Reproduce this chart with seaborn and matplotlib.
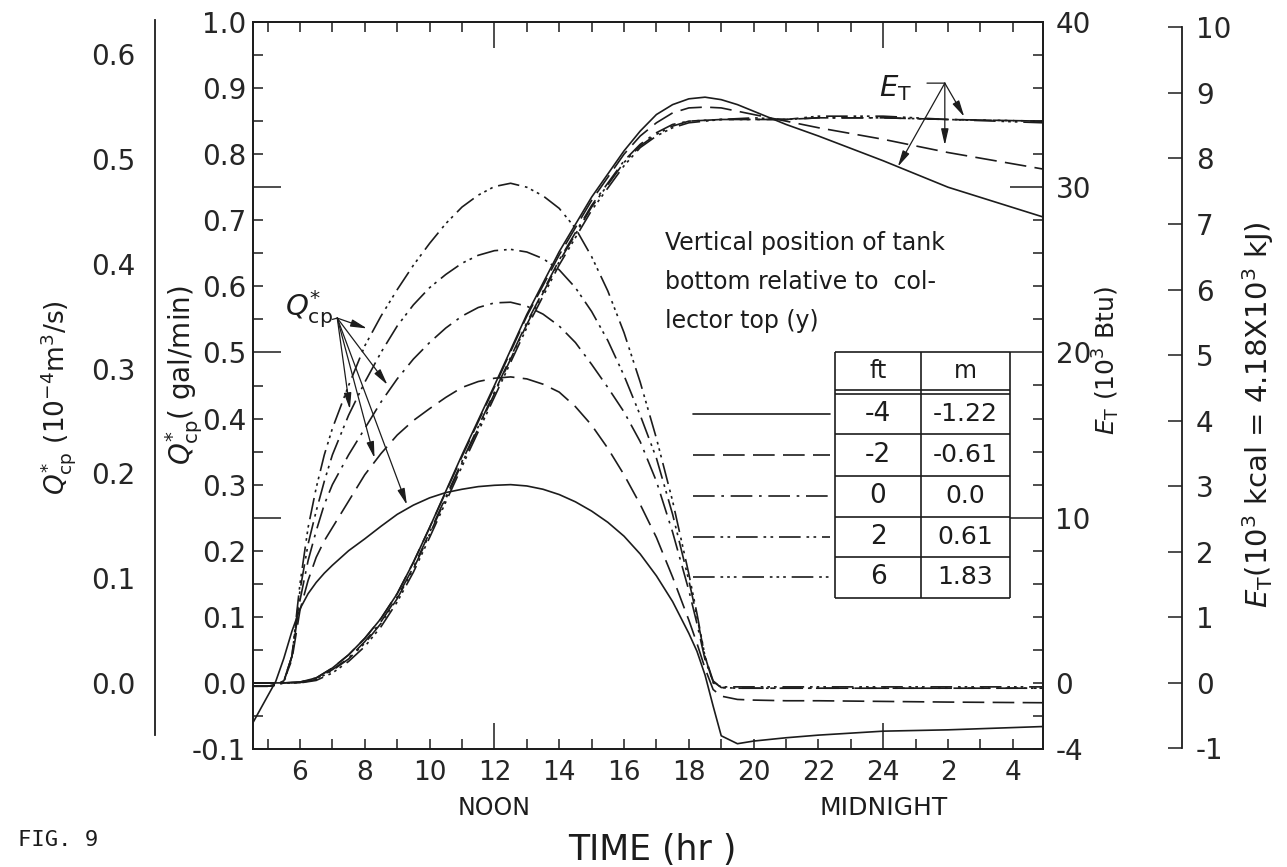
import numpy as np
import pandas as pd
import matplotlib
matplotlib.use("Agg")
import matplotlib.pyplot as plt
import matplotlib.transforms as mtrans
from matplotlib.ticker import FixedLocator, FuncFormatter
import seaborn as sns

# ---------------- data ----------------
hours_q = [4.55, 5.0, 5.25, 5.5, 5.75, 6.0, 6.25, 6.5, 6.75, 7.0,
           7.5, 8.0, 8.5, 9.0, 9.5, 10.0, 10.5, 11.0, 11.5, 12.0,
           12.5, 13.0, 13.5, 14.0, 14.5, 15.0, 15.5, 16.0, 16.5, 17.0,
           17.5, 18.0, 18.25, 18.5, 18.75, 19.0, 19.5, 20.0, 21.0, 22.0,
           24.0, 26.0, 28.93]
q_m4 = [-0.06, -0.02, 0.002, 0.037, 0.078, 0.112, 0.135, 0.152, 0.166, 0.178,
        0.20, 0.218, 0.237, 0.255, 0.269, 0.28, 0.288, 0.293, 0.297, 0.299,
        0.30, 0.298, 0.293, 0.285, 0.274, 0.26, 0.243, 0.222, 0.195, 0.162,
        0.123, 0.075, 0.048, 0.012, -0.035, -0.08, -0.092, -0.088, -0.083, -0.079,
        -0.073, -0.071, -0.066]
q_m2 = [-0.005, -0.005, -0.003, 0.003, 0.035, 0.11, 0.155, 0.19, 0.215, 0.235,
        0.275, 0.315, 0.347, 0.375, 0.397, 0.415, 0.432, 0.447, 0.456, 0.461,
        0.463, 0.46, 0.452, 0.44, 0.418, 0.39, 0.355, 0.315, 0.27, 0.22,
        0.16, 0.095, 0.06, 0.022, -0.01, -0.02, -0.025, -0.026, -0.027, -0.027,
        -0.028, -0.029, -0.03]
q_0 = [-0.005, -0.005, -0.003, 0.003, 0.04, 0.125, 0.185, 0.23, 0.27, 0.30,
       0.345, 0.385, 0.425, 0.46, 0.49, 0.515, 0.537, 0.555, 0.568, 0.575,
       0.576, 0.57, 0.558, 0.54, 0.515, 0.482, 0.447, 0.41, 0.365, 0.305,
       0.228, 0.14, 0.09, 0.035, 0.002, -0.007, -0.008, -0.008, -0.008, -0.008,
       -0.008, -0.008, -0.008]
q_2 = [-0.005, -0.005, -0.003, 0.003, 0.04, 0.14, 0.21, 0.26, 0.305, 0.345,
       0.405, 0.455, 0.50, 0.54, 0.572, 0.598, 0.618, 0.635, 0.647, 0.654,
       0.656, 0.652, 0.642, 0.625, 0.598, 0.562, 0.518, 0.465, 0.405, 0.34,
       0.255, 0.155, 0.10, 0.04, 0.003, -0.007, -0.008, -0.008, -0.008, -0.008,
       -0.008, -0.008, -0.008]
q_6 = [-0.005, -0.005, -0.004, 0.0, 0.04, 0.15, 0.235, 0.295, 0.345, 0.385,
       0.45, 0.51, 0.555, 0.595, 0.632, 0.665, 0.695, 0.72, 0.738, 0.751,
       0.756, 0.75, 0.737, 0.718, 0.688, 0.645, 0.593, 0.53, 0.455, 0.37,
       0.275, 0.165, 0.105, 0.04, 0.0, -0.006, -0.006, -0.006, -0.006, -0.006,
       -0.006, -0.006, -0.006]

hours_e = [4.55, 5.5, 6.0, 6.5, 7.0, 7.5, 8.0, 8.5, 9.0, 9.5,
           10.0, 11.0, 12.0, 13.0, 14.0, 15.0, 16.0, 16.5, 17.0, 17.5,
           18.0, 18.5, 19.0, 19.5, 20.0, 21.0, 22.0, 24.0, 26.0, 28.93]
e_m4 = [0, 0, 0.05, 0.3, 0.9, 1.7, 2.7, 3.9, 5.4, 7.3,
        9.4, 13.8, 18.0, 22.3, 26.1, 29.4, 32.2, 33.4, 34.4, 35.0,
        35.35, 35.45, 35.3, 35.0, 34.6, 33.8, 33.1, 31.6, 30.0, 28.2]
e_m2 = [0, 0, 0.05, 0.3, 0.9, 1.7, 2.7, 3.9, 5.4, 7.3,
        9.4, 13.7, 17.9, 22.2, 25.9, 29.2, 32.0, 33.1, 33.9, 34.5,
        34.8, 34.85, 34.8, 34.6, 34.4, 34.0, 33.6, 32.9, 32.1, 31.1]
e_0 = [0, 0, 0.03, 0.25, 0.8, 1.5, 2.5, 3.7, 5.2, 7.0,
       9.1, 13.4, 17.6, 21.8, 25.6, 28.9, 31.6, 32.6, 33.3, 33.8,
       34.0, 34.05, 34.1, 34.1, 34.1, 34.1, 34.2, 34.2, 34.1, 34.0]
e_2 = [0, 0, 0.02, 0.2, 0.75, 1.45, 2.4, 3.6, 5.1, 6.9,
       9.0, 13.3, 17.5, 21.7, 25.5, 28.8, 31.5, 32.5, 33.2, 33.7,
       34.0, 34.05, 34.1, 34.1, 34.1, 34.1, 34.2, 34.2, 34.1, 34.0]
e_6 = [0, 0, 0.0, 0.15, 0.6, 1.3, 2.2, 3.4, 4.9, 6.7,
       8.8, 13.1, 17.3, 21.5, 25.3, 28.6, 31.3, 32.4, 33.1, 33.6,
       33.9, 34.0, 34.1, 34.15, 34.2, 34.1, 34.3, 34.3, 34.1, 33.9]

positions_ft = ["-4", "-2", "0", "2", "6"]
positions_m = ["-1.22", "-0.61", "0.0", "0.61", "1.83"]

q_si_ticks = [0.0, 0.1, 0.2, 0.3, 0.4, 0.5, 0.6]
e_ticks = [-4, 0, 10, 20, 30, 40]
kcal_ticks = [-1, 0, 1, 2, 3, 4, 5, 6, 7, 8, 9, 10]

GPM_TO_SI = 0.6309     # 1 gal/min = 0.6309e-4 m3/s
BTU_PER_KCAL = 3.968

# ---------------- style ----------------
sns.set_theme(style="white")
plt.rcParams["font.family"] = ["DejaVu Sans"]
plt.rcParams["mathtext.fontset"] = "dejavusans"
INK = "#1c1c1c"

dash_map = {"-4": "", "-2": (13, 5), "0": (13, 4, 1.6, 4),
            "2": (13, 3.5, 1.6, 2.6, 1.6, 3.5), "6": (13, 3.5, 1.6, 2.4, 1.6, 2.4, 1.6, 3.5)}

q_series = {"-4": q_m4, "-2": q_m2, "0": q_0, "2": q_2, "6": q_6}
e_series = {"-4": e_m4, "-2": e_m2, "0": e_0, "2": e_2, "6": e_6}

df_q = pd.concat([pd.DataFrame({"hour": hours_q, "Q": v, "y": k}) for k, v in q_series.items()])
df_e = pd.concat([pd.DataFrame({"hour": hours_e, "E": v, "y": k}) for k, v in e_series.items()])

W, H = 1287, 867
fig = plt.figure(figsize=(W / 100, H / 100), dpi=100)
L, R, T, B = 253, 1043, 22, 749
ax = fig.add_axes([L / W, (H - B) / H, (R - L) / W, (B - T) / H])
axE = ax.twinx()

sns.lineplot(data=df_q, x="hour", y="Q", style="y", style_order=positions_ft, dashes=dash_map,
             color=INK, lw=1.2, legend=False, ax=ax, estimator=None, sort=False)
sns.lineplot(data=df_e, x="hour", y="E", style="y", style_order=positions_ft, dashes=dash_map,
             color=INK, lw=1.2, legend=False, ax=axE, estimator=None, sort=False)

ax.set_xlim(4.55, 28.93)
ax.set_ylim(-0.1, 1.0)
axE.set_ylim(-4, 40)
for a in (ax, axE):
    a.set_xlabel("")
    a.set_ylabel("")
    for s in a.spines.values():
        s.set_color(INK)
        s.set_linewidth(1.3)

TICK_FS = 20
# x axis
ax.xaxis.set_major_locator(FixedLocator([12, 24]))
ax.xaxis.set_minor_locator(FixedLocator([h for h in range(5, 29) if h not in (12, 24)]))
hfmt = FuncFormatter(lambda v, p: (f"{int(round(v)) if v <= 24 else int(round(v)) - 24}"
                                   if int(round(v)) % 2 == 0 else ""))
ax.xaxis.set_major_formatter(hfmt)
ax.xaxis.set_minor_formatter(hfmt)
ax.tick_params(axis="x", which="both", direction="in", top=True, bottom=True, labelsize=19,
               pad=8, color=INK, width=1.1)
ax.tick_params(axis="x", which="major", length=19)
ax.tick_params(axis="x", which="minor", length=7)

# left Q axis
ax.yaxis.set_major_locator(FixedLocator([0.25, 0.5, 0.75]))
ax.yaxis.set_minor_locator(FixedLocator([k / 20 for k in range(-2, 21) if k not in (5, 10, 15)]))
qfmt = FuncFormatter(lambda v, p: f"{v:.1f}" if round(v * 20) % 2 == 0 else "")
ax.yaxis.set_major_formatter(qfmt)
ax.yaxis.set_minor_formatter(qfmt)
ax.tick_params(axis="y", which="both", direction="in", left=True, right=False, labelsize=TICK_FS,
               pad=5, color=INK, width=1.1)
ax.tick_params(axis="y", which="major", length=20)
ax.tick_params(axis="y", which="minor", length=7)

# right E axis (Btu)
axE.yaxis.set_major_locator(FixedLocator([10, 20, 30]))
axE.yaxis.set_minor_locator(FixedLocator([v for v in range(-4, 41, 2) if v not in (10, 20, 30)]))
efmt = FuncFormatter(lambda v, p: f"{int(round(v))}" if int(round(v)) in e_ticks else "")
axE.yaxis.set_major_formatter(efmt)
axE.yaxis.set_minor_formatter(efmt)
axE.tick_params(axis="y", which="both", direction="in", right=True, left=False, labelsize=TICK_FS,
                pad=9, color=INK, width=1.1)
axE.tick_params(axis="y", which="major", length=24)
axE.tick_params(axis="y", which="minor", length=7)

# outer left axis: m3/s
axL = fig.add_axes([155 / W, (H - B) / H, 0.02, (B - T) / H])
axL.set_ylim(-0.1 * GPM_TO_SI, 1.0 * GPM_TO_SI)
axL.patch.set_visible(False)
for k, s in axL.spines.items():
    s.set_visible(k == "left")
axL.spines["left"].set_color(INK)
axL.spines["left"].set_linewidth(1.3)
axL.spines["left"].set_bounds(-0.05, 0.633)
axL.set_xticks([])
axL.yaxis.set_major_locator(FixedLocator(q_si_ticks + [0.633]))
axL.yaxis.set_minor_locator(FixedLocator([-0.05, 0.05, 0.15, 0.25, 0.35, 0.45, 0.55]))
axL.yaxis.set_major_formatter(FuncFormatter(lambda v, p: f"{v:.1f}" if v < 0.62 else ""))
axL.tick_params(axis="y", which="both", direction="in", labelsize=TICK_FS, pad=14, color=INK, width=1.1)
axL.tick_params(axis="y", which="major", length=18)
axL.tick_params(axis="y", which="minor", length=10)

# outer right axis: kcal
axK = fig.add_axes([1162 / W, (H - B) / H, 20 / W, (B - T) / H])
axK.set_ylim(-4 / BTU_PER_KCAL, 40 / BTU_PER_KCAL)
axK.patch.set_visible(False)
for k, s in axK.spines.items():
    s.set_visible(k == "right")
axK.spines["right"].set_color(INK)
axK.spines["right"].set_linewidth(1.3)
axK.spines["right"].set_bounds(-1, 10)
axK.set_xticks([])
axK.yaxis.tick_right()
axK.yaxis.set_major_locator(FixedLocator(kcal_ticks))
axK.yaxis.set_major_formatter(FuncFormatter(lambda v, p: f"{int(round(v))}"))
axK.tick_params(axis="y", which="major", direction="in", length=10, labelsize=TICK_FS, pad=10,
                color=INK, width=1.1)

# ---------------- axis titles ----------------
fig.text(184 / W, 1 - 375 / H, r"$Q^{*}_{\mathrm{cp}}$( gal/min)", rotation=90, ha="center",
         va="center", fontsize=20, color=INK)
fig.text(58 / W, 1 - 398 / H, r"$Q^{*}_{\mathrm{cp}}$ (10$^{-4}$m$^{3}$/s)", rotation=90,
         ha="center", va="center", fontsize=19, color=INK)
fig.text(1106 / W, 1 - 360 / H, r"$E_{\mathrm{T}}$ (10$^{3}$ Btu)", rotation=90, ha="center",
         va="center", fontsize=18, color=INK)
fig.text(1258 / W, 1 - 415 / H, r"$E_{\mathrm{T}}$(10$^{3}$ kcal = 4.18X10$^{3}$ kJ)", rotation=90,
         ha="center", va="center", fontsize=21, color=INK)

blend = mtrans.blended_transform_factory(ax.transData, ax.transAxes)
ax.text(12, -0.081, "NOON", transform=blend, ha="center", va="center", fontsize=17, color=INK)
ax.text(24, -0.081, "MIDNIGHT", transform=blend, ha="center", va="center", fontsize=18, color=INK)
fig.text(652 / W, 1 - 850 / H, "TIME (hr )", ha="center", va="center", fontsize=25, color=INK)
fig.text(18 / W, 1 - 840 / H, "FIG. 9", ha="left", va="center", fontsize=16,
         family="DejaVu Sans Mono", color=INK)

# ---------------- annotations ----------------
arrow_kw = dict(arrowstyle="-|>,head_width=0.16,head_length=0.7", lw=0.9, color=INK,
                shrinkA=0, shrinkB=0, mutation_scale=14)
q_origin = (7.15, 0.552)
ax.text(7.02, 0.565, r"$Q^{*}_{\mathrm{cp}}$", ha="right", va="center", fontsize=21, color=INK)
ax.annotate("", xy=q_origin, xytext=(7.0, 0.55),
            arrowprops=dict(arrowstyle="-", lw=0.9, color=INK, shrinkA=0, shrinkB=0))
for t, key, off in [(8.07, "6", 0.02), (8.7, "0", 0.012), (7.54, "2", 0.005),
                    (8.3, "-2", 0.006), (9.3, "-4", 0.006)]:
    yq = np.interp(t, hours_q, q_series[key]) + off
    ax.annotate("", xy=(t, yq), xytext=q_origin, arrowprops=arrow_kw)

e_origin = (25.9, 36.3)
axE.text(24.9, 36.0, r"$E_{\mathrm{T}}$", ha="right", va="center", fontsize=21, color=INK)
axE.annotate("", xy=e_origin, xytext=(25.35, 36.3),
             arrowprops=dict(arrowstyle="-", lw=0.9, color=INK, shrinkA=0, shrinkB=0))
for t, key, off in [(26.5, "6", 0.2), (25.9, "-2", 0.4), (24.45, "-4", 0.0)]:
    ye = np.interp(t, hours_e, e_series[key]) + off
    axE.annotate("", xy=(t, ye), xytext=e_origin, arrowprops=arrow_kw)

# ---------------- legend table ----------------
def fx(px):
    return (px - L) / (R - L)

def fy(py):
    return (B - py) / (B - T)

ta = ax.transAxes
for i, line in enumerate(["Vertical position of tank", "bottom relative to  col-", "lector top (y)"]):
    ax.text(fx(665), fy(243 + 39 * i), line, transform=ta, ha="left", va="center", fontsize=17,
            color=INK)

tl, tm, tr = fx(835), fx(921), fx(1010)
ttop, tbot = fy(352), fy(598)
row_lines = [fy(390), fy(394), fy(434), fy(476), fy(517), fy(557)]
lk = dict(color=INK, lw=1.2, transform=ta, clip_on=False, solid_capstyle="butt")
for xv in (tl, tm, tr):
    ax.plot([xv, xv], [tbot, ttop], **lk)
for yv in [ttop, tbot] + row_lines:
    ax.plot([tl, tr], [yv, yv], **lk)
ax.text((tl + tm) / 2, fy(371), "ft", transform=ta, ha="center", va="center", fontsize=17, color=INK)
ax.text((tm + tr) / 2, fy(371), "m", transform=ta, ha="center", va="center", fontsize=17, color=INK)
row_centers = [414, 455, 496, 537, 577]
for ft, m, rc in zip(positions_ft, positions_m, row_centers):
    ax.text((tl + tm) / 2, fy(rc), ft, transform=ta, ha="center", va="center", fontsize=19, color=INK)
    ax.text((tm + tr) / 2, fy(rc), m, transform=ta, ha="center", va="center", fontsize=18, color=INK)
    ln, = ax.plot([fx(693), fx(830)], [fy(rc), fy(rc)], color=INK, lw=1.2, transform=ta)
    ln.set_dashes(dash_map[ft])

fig.savefig("out.png", dpi=100, facecolor="white")
